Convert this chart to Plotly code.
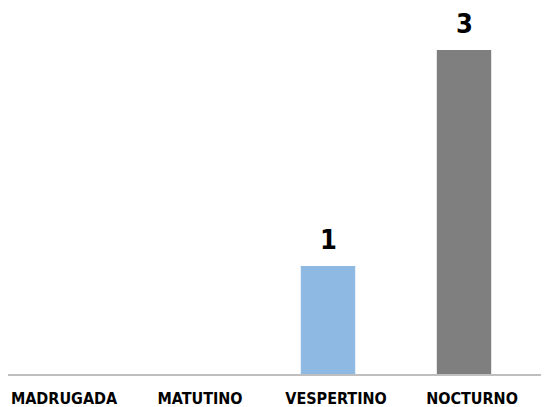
import plotly.graph_objects as go

categories = ["MADRUGADA", "MATUTINO", "VESPERTINO", "NOCTURNO"]
values = [0, 0, 1, 3]
colors = ["#8DB9E2", "#8DB9E2", "#8DB9E2", "#7F7F7F"]

FONT = "DejaVu Sans Condensed"

fig = go.Figure()
fig.add_trace(go.Bar(
    x=categories, y=values,
    marker=dict(color=colors, line=dict(width=0)),
    width=0.4,
    hoverinfo="skip",
))

for c, v in zip(categories, values):
    if v:
        fig.add_annotation(
            x=c, y=v, text=f"<b>{v}</b>", showarrow=False,
            yanchor="bottom", yshift=9,
            font=dict(family=FONT, size=27, color="#000000"),
        )

fig.update_layout(
    width=541, height=399,
    margin=dict(l=0, r=0, t=1, b=33),
    paper_bgcolor="white", plot_bgcolor="white",
    showlegend=False,
    xaxis=dict(
        range=[-0.353, 3.625],
        showline=True, linecolor="#BFBFBF", linewidth=2,
        showgrid=False, zeroline=False,
        ticks="", ticklabelstandoff=9, ticklabelshift=8,
        tickfont=dict(family=FONT, size=16, color="#000000", weight="bold"),
        automargin=False,
    ),
    yaxis=dict(
        range=[0, 3.38], visible=False, showgrid=False, zeroline=False,
    ),
)

fig.write_html("out.html")
